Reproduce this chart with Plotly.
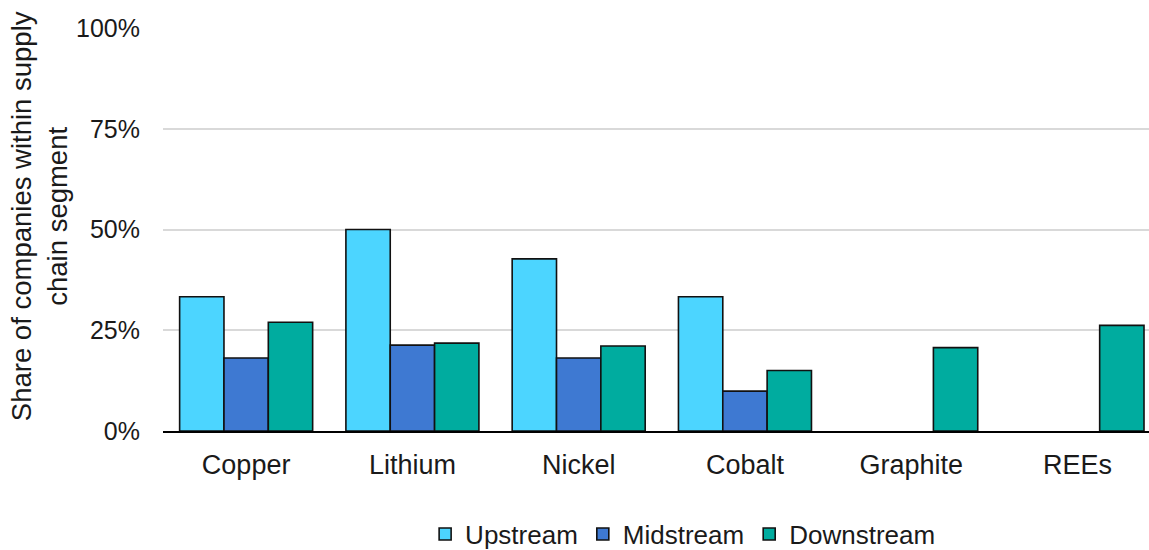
import plotly.graph_objects as go

# Critical minerals and the share of companies in each supply-chain segment
minerals = ["Copper", "Lithium", "Nickel", "Cobalt", "Graphite", "REEs"]
upstream = [0.333, 0.50, 0.427, 0.333, None, None]
midstream = [0.181, 0.213, 0.181, 0.099, None, None]
downstream = [0.270, 0.218, 0.211, 0.150, 0.207, 0.262]

y_ticks = [0, 0.25, 0.5, 0.75, 1.0]
y_tick_text = ["0%", "25%", "50%", "75%", "100%"]

series = [
    ("Upstream", upstream, "#4CD5FF"),
    ("Midstream", midstream, "#3E79D2"),
    ("Downstream", downstream, "#00AC9F"),
]

FONT = "Liberation Sans, Arial, sans-serif"

fig = go.Figure()
for name, values, color in series:
    fig.add_trace(go.Bar(
        name=name,
        x=minerals,
        y=values,
        marker=dict(color=color, line=dict(color="#111111", width=1.6)),
    ))

fig.update_layout(
    width=1149,
    height=550,
    margin=dict(l=163, r=0, t=28, b=119, autoexpand=False),
    paper_bgcolor="white",
    plot_bgcolor="white",
    barmode="group",
    bargap=0.2,
    bargroupgap=0,
    font=dict(family=FONT, size=25, color="#1a1a1a"),
    showlegend=True,
    legend=dict(
        orientation="h",
        x=0.527,
        xanchor="center",
        y=-0.256,
        yanchor="middle",
        font=dict(size=26),
        itemwidth=30,
        traceorder="normal",
    ),
    xaxis=dict(
        type="category",
        range=[-0.5, 5.43],
        showline=True,
        linecolor="black",
        linewidth=2,
        showgrid=False,
        ticks="",
        ticklabelstandoff=9,
        tickfont=dict(size=27),
        automargin=False,
    ),
    yaxis=dict(
        range=[0, 1.0],
        tickvals=y_ticks,
        ticktext=y_tick_text,
        showgrid=True,
        gridcolor="#D9D9D9",
        gridwidth=1.5,
        zeroline=False,
        showline=False,
        ticks="",
        ticklabelstandoff=22,
        tickfont=dict(size=25),
        automargin=False,
    ),
    annotations=[
        dict(
            text="Share of companies within supply<br>chain segment",
            xref="paper",
            yref="paper",
            x=-0.1258,
            y=0.533,
            xanchor="center",
            yanchor="middle",
            textangle=-90,
            showarrow=False,
            font=dict(family=FONT, size=27.5, color="#1a1a1a"),
        )
    ],
)

fig.write_html("out.html")
